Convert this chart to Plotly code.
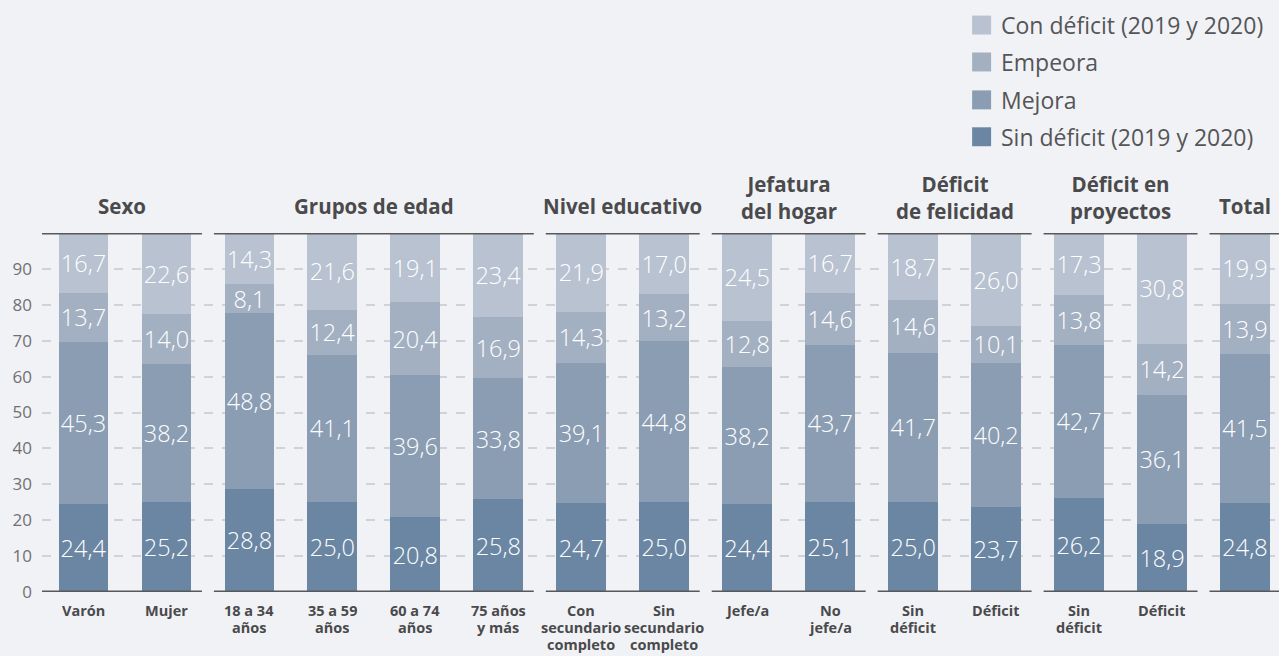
import plotly.graph_objects as go

# Categorías (eje X), una lista de líneas por etiqueta
categorias = [
    ["Varón"], ["Mujer"],
    ["18 a 34", "años"], ["35 a 59", "años"], ["60 a 74", "años"], ["75 años", "y más"],
    ["Con", "secundario", "completo"], ["Sin", "secundario", "completo"],
    ["Jefe/a"], ["No", "jefe/a"],
    ["Sin", "déficit"], ["Déficit"],
    ["Sin", "déficit"], ["Déficit"],
    [],
]
# Grupos: título (líneas), primera y última categoría
grupos = [
    (["Sexo"], 0, 1),
    (["Grupos de edad"], 2, 5),
    (["Nivel educativo"], 6, 7),
    (["Jefatura", "del hogar"], 8, 9),
    (["Déficit", "de felicidad"], 10, 11),
    (["Déficit en", "proyectos"], 12, 13),
    (["Total"], 14, 14),
]

# Series (porcentajes)
sin_deficit = [24.4, 25.2, 28.8, 25.0, 20.8, 25.8, 24.7, 25.0, 24.4, 25.1, 25.0, 23.7, 26.2, 18.9, 24.8]
mejora = [45.3, 38.2, 48.8, 41.1, 39.6, 33.8, 39.1, 44.8, 38.2, 43.7, 41.7, 40.2, 42.7, 36.1, 41.5]
empeora = [13.7, 14.0, 8.1, 12.4, 20.4, 16.9, 14.3, 13.2, 12.8, 14.6, 14.6, 10.1, 13.8, 14.2, 13.9]
con_deficit = [16.7, 22.6, 14.3, 21.6, 19.1, 23.4, 21.9, 17.0, 24.5, 16.7, 18.7, 26.0, 17.3, 30.8, 19.9]

series = [
    ("Sin déficit (2019 y 2020)", sin_deficit, "#6a86a3"),
    ("Mejora", mejora, "#8b9db3"),
    ("Empeora", empeora, "#a3b0c2"),
    ("Con déficit (2019 y 2020)", con_deficit, "#b8c2d1"),
]

y_ticks = [0, 10, 20, 30, 40, 50, 60, 70, 80, 90]

BG = "#f1f2f6"
DARK = "#4a4a4c"
FONT = "Open Sans"

W, H = 1279, 656
M_L, M_R, M_T, M_B = 41.5, 0, 232.5, 63.5
PLOT_W = W - M_L - M_R
PLOT_H = H - M_T - M_B

def px_x(p):
    return (p - M_L) / PLOT_W

def px_y(p):
    return (H - M_B - p) / PLOT_H

x = list(range(len(categorias)))

fig = go.Figure()
for nombre, valores, color in series:
    fig.add_trace(go.Bar(
        x=x, y=valores, name=nombre, width=0.6,
        marker=dict(color=color, line=dict(width=0)),
        texttemplate="%{y:.1f}", textposition="inside",
        insidetextanchor="middle", textangle=0, constraintext="none",
        insidetextfont=dict(family=FONT, size=23.5, color="white", weight=300),
        hoverinfo="skip", showlegend=False,
    ))

shapes = []
annotations = []

# Líneas superiores e inferiores de cada grupo, y títulos
gap = 6 / 83
x_max = -0.5 + PLOT_W / 83
for i, (titulo, a, b) in enumerate(grupos):
    x0 = a - 0.5 + (gap if i > 0 else 0)
    x1 = b + 0.5 - gap if i < len(grupos) - 1 else x_max + 0.2
    for yv in (100, 0):
        shapes.append(dict(type="line", xref="x", yref="y", x0=x0, x1=x1, y0=yv, y1=yv,
                           line=dict(color="#58585b", width=3), layer="above"))
    xc = (x0 + x1) / 2 if i < len(grupos) - 1 else float(a)
    n = len(titulo)
    annotations.append(dict(
        x=xc, y=px_y(205 - 8 * (n - 1)), xref="x", yref="paper",
        yanchor="middle", text="<br>".join(titulo), showarrow=False,
        font=dict(family=FONT, size=20.5, color=DARK, weight=700),
    ))

# Etiquetas de categoría bajo el eje
for i, lineas in enumerate(categorias):
    for j, linea in enumerate(lineas):
        annotations.append(dict(
            x=i, y=px_y(611 + 17 * j), xref="x", yref="paper",
            yanchor="middle", height=17, text=linea, showarrow=False,
            font=dict(family=FONT, size=14.5, color=DARK, weight=700),
        ))

# Leyenda (de arriba hacia abajo)
leyenda_y = [24, 61, 99, 136]
for (nombre, _, color), yc in zip(reversed(series), leyenda_y):
    shapes.append(dict(type="rect", xref="paper", yref="paper",
                       x0=px_x(972), x1=px_x(991), y0=px_y(yc + 9.5), y1=px_y(yc - 9.5),
                       fillcolor=color, line=dict(width=0)))
    annotations.append(dict(
        x=px_x(999), y=px_y(yc), xref="paper", yref="paper",
        xanchor="left", yanchor="middle", showarrow=False, text=nombre,
        font=dict(family=FONT, size=23, color="#555558"),
    ))

fig.update_layout(
    width=W, height=H,
    margin=dict(l=M_L, r=M_R, t=M_T, b=M_B, pad=0),
    paper_bgcolor=BG, plot_bgcolor=BG,
    barmode="stack", bargap=0.4,
    separators=",.",
    showlegend=False,
    shapes=shapes, annotations=annotations,
    xaxis=dict(
        range=[-0.5, x_max], showticklabels=False,
        showgrid=False, zeroline=False, showline=False, ticks="",
    ),
    yaxis=dict(
        range=[0, 100], tickmode="array", tickvals=y_ticks,
        showgrid=True, gridcolor="#cfd2d8", griddash="dash", gridwidth=1.5,
        zeroline=False, showline=False, ticks="", ticklabelstandoff=9,
        tickfont=dict(family=FONT, size=17, color="#707072"),
    ),
)

fig.write_html("out.html")
